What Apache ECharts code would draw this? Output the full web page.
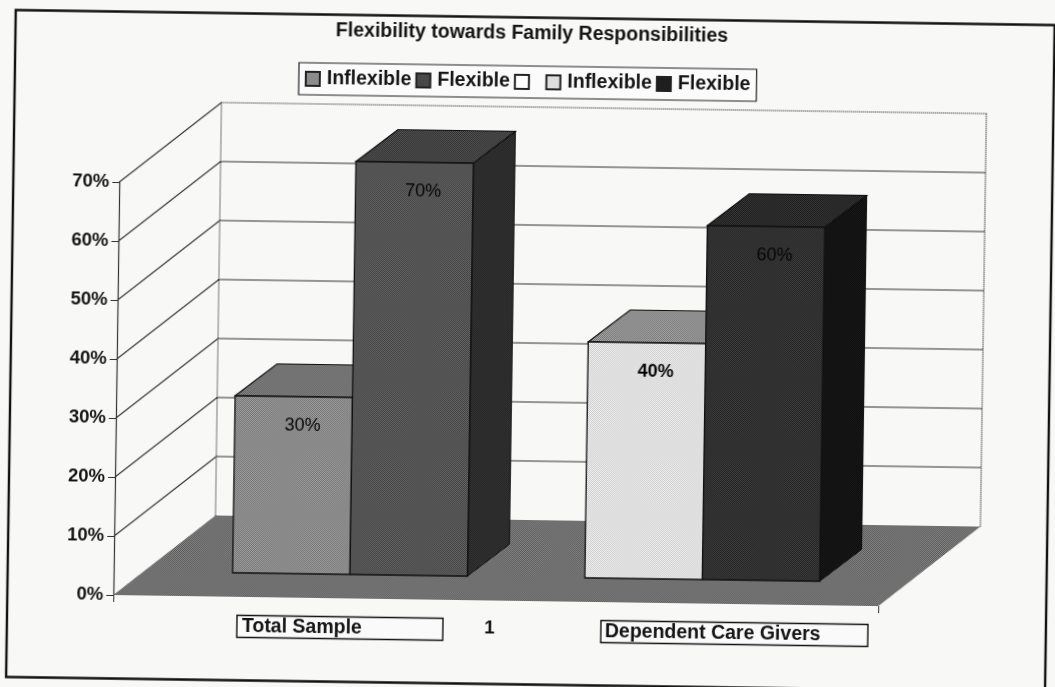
<!DOCTYPE html>
<html>
<head>
<meta charset="utf-8">
<style>
html,body{margin:0;padding:0;width:1055px;height:687px;overflow:hidden;background:#f8f8f7;}
#chart{width:1055px;height:687px;transform:rotate(0.83deg);transform-origin:527.5px 343.5px;}
</style>
<script src="https://cdn.jsdelivr.net/npm/echarts@6/dist/echarts.min.js"></script>
</head>
<body>
<div id="chart"></div>
<script>
var titleText = 'Flexibility towards Family Responsibilities';
var categories = ['1'];
var seriesNames = ['Total Sample | Inflexible', 'Total Sample | Flexible', 'Blank |  ', 'Dependent Care Givers | Inflexible', 'Dependent Care Givers | Flexible'];
var inflexibleTotal = [30];
var flexibleTotal = [70];
var blankSeries = [];
var inflexibleCare = [40];
var flexibleCare = [60];
var wallTicks = [10, 20, 30, 40, 50, 60, 70];
var groupLabels = ['Total Sample', 'Dependent Care Givers'];

var FONT = '"Liberation Sans", Arial, sans-serif';
var WALL = [101, -81], BAR_DEPTH = [41.5, -32.5], BAR_INSET = [30, -24], BAR_FRACTION = 0.1535;

function dither(a, b) {
  var c = document.createElement('canvas');
  c.width = c.height = 2;
  var g = c.getContext('2d');
  g.fillStyle = a; g.fillRect(0, 0, 2, 2);
  g.fillStyle = b; g.fillRect(0, 0, 1, 1); g.fillRect(1, 1, 1, 1);
  return { image: c, repeat: 'repeat' };
}

var faces = [
  { front: dither('#a4a4a4', '#6f6f6f'), top: dither('#8a8a8a', '#5c5c5c'), side: '#444', legend: '#8c8c8c', labelWeight: 'normal' },
  { front: dither('#6a6a6a', '#3c3c3c'), top: dither('#565656', '#2e2e2e'), side: dither('#3a3a3a', '#1e1e1e'), legend: '#484848', labelWeight: 'normal' },
  { front: '#fff', top: '#fff', side: '#fff', legend: '#ffffff', labelWeight: 'normal' },
  { front: dither('#f4f4f4', '#c9c9c9'), top: dither('#adadad', '#6e6e6e'), side: '#555', legend: '#dddddd', labelWeight: 'bold' },
  { front: dither('#444444', '#1c1c1c'), top: dither('#3a3a3a', '#181818'), side: dither('#1c1c1c', '#0a0a0a'), legend: '#1e1e1e', labelWeight: 'normal' }
];

function poly(points, fill, stroke, width) {
  return { type: 'polygon', shape: { points: points },
    style: { fill: fill, stroke: stroke || null, lineWidth: width || 0 } };
}

function barRender(slot) {
  return function (params, api) {
    var band = api.size([1, 0])[0];
    var w = band * BAR_FRACTION;
    var top = api.coord([api.value(0), api.value(1)]);
    var base = api.coord([api.value(0), 0]);
    var x0 = base[0] + BAR_INSET[0] + (slot - 2.5) * w;
    var x1 = x0 + w;
    var yB = base[1] + BAR_INSET[1];
    var yT = top[1] + BAR_INSET[1];
    var d = BAR_DEPTH, f = faces[slot], ink = '#101010';
    return { type: 'group', children: [
      poly([[x1, yT], [x1 + d[0], yT + d[1]], [x1 + d[0], yB + d[1]], [x1, yB]], f.side, ink, 1),
      poly([[x0, yT], [x0 + d[0], yT + d[1]], [x1 + d[0], yT + d[1]], [x1, yT]], f.top, ink, 1.2),
      poly([[x0, yT], [x1, yT], [x1, yB], [x0, yB]], f.front, ink, 1.3),
      { type: 'text', style: { text: api.value(1) + '%', x: (x0 + x1) / 2 + 9, y: yT + 29,
        align: 'center', verticalAlign: 'middle', fill: '#050505', font: f.labelWeight + ' 18px ' + FONT } }
    ] };
  };
}

function wallRender(params, api) {
  var band = api.size([1, 0])[0];
  var v = api.value(1);
  var p = api.coord([api.value(0), v]);
  var xL = p[0] - band / 2, y = p[1];
  var isTop = v === wallTicks[wallTicks.length - 1];
  var base = api.coord([api.value(0), 0])[1];
  var kids = [
    { type: 'line', shape: { x1: xL, y1: y, x2: xL + WALL[0], y2: y + WALL[1] },
      style: { stroke: '#333', lineWidth: 1.1, fill: null } },
    { type: 'line', shape: { x1: xL + WALL[0], y1: y + WALL[1], x2: xL + band + WALL[0], y2: y + WALL[1] },
      style: { stroke: '#333', lineWidth: 1.2, fill: null, lineDash: isTop ? [1, 1] : null } }
  ];
  if (isTop) {
    [0, band].forEach(function (dx) {
      kids.push({ type: 'line', shape: { x1: xL + dx + WALL[0], y1: y + WALL[1], x2: xL + dx + WALL[0], y2: base + WALL[1] },
        style: { stroke: '#222', lineWidth: 1.2, fill: null, lineDash: [1, 1] } });
    });
  }
  return { type: 'group', children: kids };
}

function floorRender(params, api) {
  var band = api.size([1, 0])[0];
  var p = api.coord([api.value(0), 0]);
  var xL = p[0] - band / 2, xR = p[0] + band / 2, y = p[1];
  return poly([[xL, y], [xR, y], [xR + WALL[0], y + WALL[1]], [xL + WALL[0], y + WALL[1]]],
    dither('#8a8a8a', '#565656'));
}

var barValues = [inflexibleTotal, flexibleTotal, blankSeries, inflexibleCare, flexibleCare];

var series = [
  { type: 'custom', name: 'walls', silent: true, clip: false, renderItem: wallRender,
    data: wallTicks.map(function (t) { return [0, t]; }), z: 1 },
  { type: 'custom', name: 'floor', silent: true, clip: false, renderItem: floorRender, data: [[0, 0]], z: 1 }
];
seriesNames.forEach(function (n, i) {
  series.push({ type: 'custom', name: n, clip: false, renderItem: barRender(i),
    itemStyle: { color: faces[i].legend, borderColor: '#222', borderWidth: 1 },
    data: barValues[i].map(function (v) { return [0, v]; }), z: 2 });
});

var graphics = [
  { type: 'rect', z: 0, shape: { x: 11, y: 17.5, width: 1039, height: 667 },
    style: { fill: 'rgba(0,0,0,0)', stroke: '#111', lineWidth: 2.4 }, silent: true },
  { type: 'rect', z: 5, shape: { x: 241, y: 619.5, width: 206, height: 22 },
    style: { fill: '#fafafa', stroke: '#111', lineWidth: 1.4 } },
  { type: 'text', z: 6, style: { text: groupLabels[0], x: 246, y: 631, verticalAlign: 'middle',
    font: 'bold 19.5px ' + FONT, fill: '#141414' } },
  { type: 'rect', z: 5, shape: { x: 605, y: 619.5, width: 267, height: 22 },
    style: { fill: '#fafafa', stroke: '#111', lineWidth: 1.4 } },
  { type: 'text', z: 6, style: { text: groupLabels[1], x: 609, y: 631, verticalAlign: 'middle',
    font: 'bold 19.5px ' + FONT, fill: '#141414' } }
];

var chart = echarts.init(document.getElementById('chart'), null, { renderer: 'canvas' });
chart.setOption({
  animation: false,
  backgroundColor: 'transparent',
  title: { text: titleText, left: 'center', top: 19,
    textStyle: { fontFamily: FONT, fontWeight: 'bold', fontSize: 19.5, color: '#141414' } },
  legend: {
    left: 295, top: 66, padding: [6, 6, 6, 6], itemGap: 4, itemWidth: 14, itemHeight: 14,
    borderColor: '#222', borderWidth: 1.2, backgroundColor: '#fbfbfb', borderRadius: 0,
    selectedMode: false, icon: 'rect',
    data: seriesNames,
    formatter: function (n) { return n.split(' | ')[1]; },
    textStyle: { fontFamily: FONT, fontWeight: 'bold', fontSize: 19.5, color: '#141414', padding: [0, 0, 0, 2] }
  },
  grid: { left: 117, top: 188, width: 765, height: 413, containLabel: false },
  xAxis: {
    type: 'category', data: categories,
    axisLine: { show: false },
    axisTick: { show: true, length: 7, lineStyle: { color: '#333' } },
    axisLabel: { margin: 18, padding: [0, 12, 0, 0], fontFamily: FONT, fontWeight: 'bold', fontSize: 19, color: '#141414' }
  },
  yAxis: {
    type: 'value', min: 0, max: 70, interval: 10,
    axisLine: { show: true, lineStyle: { color: '#333', width: 1.2 } },
    axisTick: { show: true, length: 7, lineStyle: { color: '#333' } },
    splitLine: { show: false },
    axisLabel: { formatter: '{value}%', margin: 10, fontFamily: FONT, fontWeight: 'bold', fontSize: 18.5, color: '#141414' }
  },
  graphic: graphics,
  series: series
});
</script>
</body>
</html>
